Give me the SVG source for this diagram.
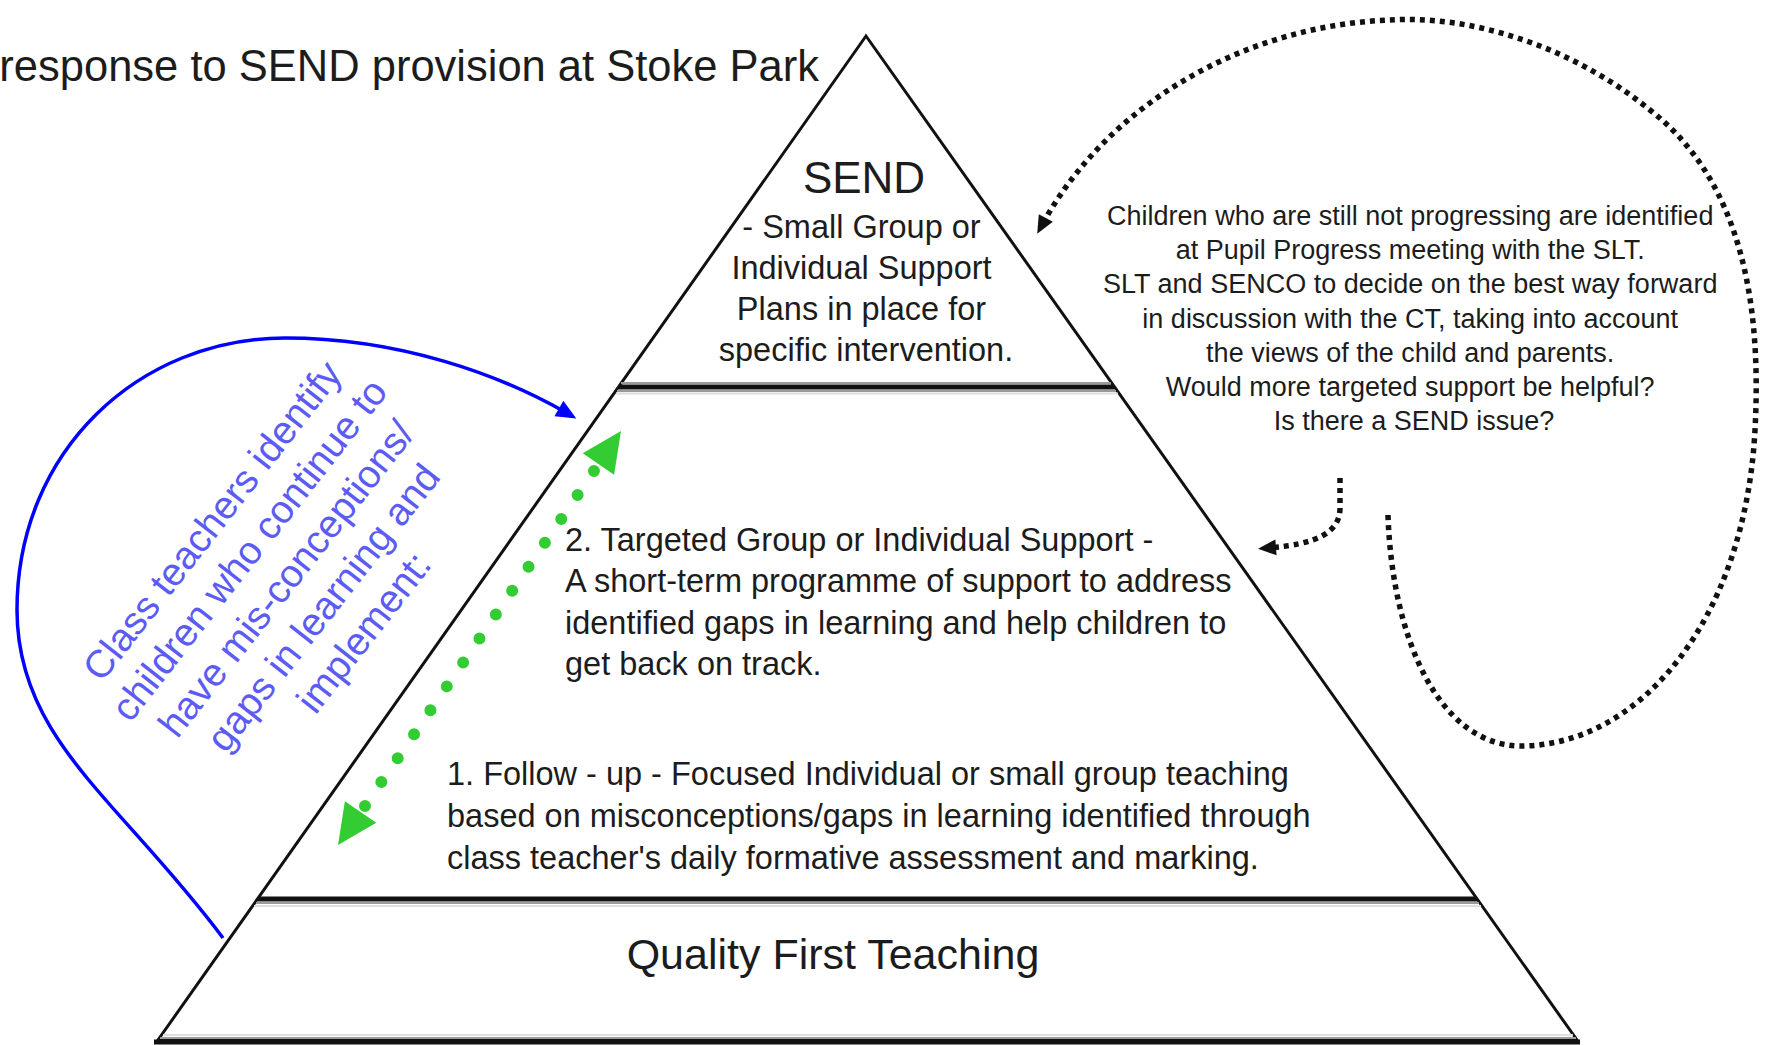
<svg xmlns="http://www.w3.org/2000/svg" width="1766" height="1045" viewBox="0 0 1766 1045">
  <style>
    .txt { font-family: "Liberation Sans", Arial, sans-serif; fill: #1c1c1c; }
    .tier { font-size: 32.5px; }
    .note { font-size: 27px; }
    .blue-note { font-family: "Liberation Sans", Arial, sans-serif; font-size: 39px; fill: #5c5cf4; }
    .edge { fill: #ffffff; stroke: #111111; stroke-width: 3; stroke-linejoin: miter; }
    .bar { stroke: #111111; stroke-width: 5; }
    .bar-shade { stroke: #9a9a9a; stroke-width: 2; }
    .bar-light { stroke: #dedede; stroke-width: 2; }
    .loop { fill: none; stroke: #111111; stroke-width: 5.5; stroke-dasharray: 5 5; }
    .blue-arc { fill: none; stroke: #0000ff; stroke-width: 3.5; }
    .green-dots { fill: none; stroke: #33cc33; stroke-width: 12; stroke-linecap: round; stroke-dasharray: 0 28.98; }
    .green-head { fill: #33cc33; }
  </style>
  <defs>
    <marker id="head-black" markerUnits="userSpaceOnUse" markerWidth="40" markerHeight="40" viewBox="-20 -20 40 40" refX="0" refY="0" orient="auto" overflow="visible">
      <path d="M10,0 L-8,-8 L-8,8 z" fill="#111111"/>
    </marker>
    <marker id="head-blue" markerUnits="userSpaceOnUse" markerWidth="40" markerHeight="40" viewBox="-20 -20 40 40" refX="0" refY="0" orient="auto" overflow="visible">
      <path d="M13,0 L-7,-9 L-7,9 z" fill="#0000ff"/>
    </marker>
  </defs>

  <rect x="0" y="0" width="1766" height="1045" fill="#ffffff"/>

  <!-- heading -->
  <g id="title">
    <text class="txt" x="819" y="81" font-size="43.5" text-anchor="end">response to SEND provision at Stoke Park</text>
  </g>

  <!-- pyramid outline and tier dividers -->
  <g id="pyramid">
    <polygon class="edge" points="866,36 158,1040 1577,1040"/>
    <line class="bar-shade" x1="621" y1="383" x2="1111" y2="383"/>
    <line class="bar" x1="619" y1="387" x2="1114" y2="387"/>
    <line class="bar-shade" x1="617" y1="391" x2="1116" y2="391"/>
    <line class="bar-light" x1="616" y1="393.5" x2="1118" y2="393.5"/>
    <line class="bar" x1="258" y1="899" x2="1477" y2="899"/>
    <line class="bar-shade" x1="256" y1="903" x2="1479" y2="903"/>
    <line class="bar-light" x1="254" y1="906" x2="1481" y2="906"/>
    <line class="bar-light" x1="163" y1="1035" x2="1573" y2="1035"/>
    <line class="bar-shade" x1="160" y1="1038" x2="1576" y2="1038"/>
    <line class="bar" x1="154" y1="1042" x2="1580" y2="1042"/>
  </g>

  <g id="tier-send">
    <text class="txt" x="864" y="193" font-size="44" text-anchor="middle">SEND</text>
    <text class="txt tier" text-anchor="middle">
      <tspan x="866" y="238">- Small Group or</tspan>
      <tspan x="866" y="279">Individual Support</tspan>
      <tspan x="866" y="320">Plans in place for</tspan>
      <tspan x="866" y="361">specific intervention.</tspan>
    </text>
  </g>

  <g id="tier-targeted">
    <text class="txt tier">
      <tspan x="565" y="551">2. Targeted Group or Individual Support -</tspan>
      <tspan x="565" y="592">A short-term programme of support to address</tspan>
      <tspan x="565" y="634">identified gaps in learning and help children to</tspan>
      <tspan x="565" y="675">get back on track.</tspan>
    </text>
  </g>

  <g id="tier-followup">
    <text class="txt tier">
      <tspan x="447" y="785">1. Follow - up - Focused Individual or small group teaching</tspan>
      <tspan x="447" y="827">based on misconceptions/gaps in learning identified through</tspan>
      <tspan x="447" y="869">class teacher's daily formative assessment and marking.</tspan>
    </text>
  </g>

  <g id="tier-qft">
    <text class="txt" x="833" y="969" font-size="43" text-anchor="middle">Quality First Teaching</text>
  </g>

  <g id="note-slt">
    <text class="txt note" text-anchor="middle">
      <tspan x="1414" y="225">Children who are still not progressing are identified</tspan>
      <tspan x="1414" y="259">at Pupil Progress meeting with the SLT.</tspan>
      <tspan x="1414" y="293">SLT and SENCO to decide on the best way forward</tspan>
      <tspan x="1414" y="328">in discussion with the CT, taking into account</tspan>
      <tspan x="1414" y="362">the views of the child and parents.</tspan>
      <tspan x="1414" y="396">Would more targeted support be helpful?</tspan>
      <tspan x="1414" y="430">Is there a SEND issue?</tspan>
    </text>
  </g>

  <g id="note-class-teachers">
    <text class="blue-note" text-anchor="middle" transform="translate(289 574) rotate(-52)">
      <tspan x="0" y="-80">Class teachers identify</tspan>
      <tspan x="0" y="-33">children who continue to</tspan>
      <tspan x="0" y="14">have mis-conceptions/</tspan>
      <tspan x="0" y="61">gaps in learning and</tspan>
      <tspan x="0" y="108">implement:</tspan>
    </text>
  </g>

  <g id="connectors">
    <!-- class teachers loop back into the targeted tier -->
    <path class="blue-arc" d="M223,938 C120,800 17,740 17,610 C17,450 140,338 285,338 C400,338 500,375 565,412" marker-end="url(#head-blue)"/>

    <!-- two-way movement between follow-up and targeted support -->
    <path class="green-dots" d="M365,806 L594,471"/>
    <polygon class="green-head" points="621,431 614.1,474.7 582.7,453.3"/>
    <polygon class="green-head" points="338,845 376.3,822.7 344.9,801.3"/>

    <!-- pupil progress loop up to SEND -->
    <path class="loop" d="M1388,515 C1392,640 1440,745 1520,746 C1640,746 1745,620 1755,430 C1762,300 1740,180 1650,110 C1570,45 1470,15 1390,20 C1250,25 1110,100 1042,225" marker-end="url(#head-black)"/>

    <!-- pupil progress outcome back to targeted support -->
    <path class="loop" d="M1340,478 L1340,508 C1340,532 1318,544 1268,548" marker-end="url(#head-black)"/>
  </g>
</svg>
